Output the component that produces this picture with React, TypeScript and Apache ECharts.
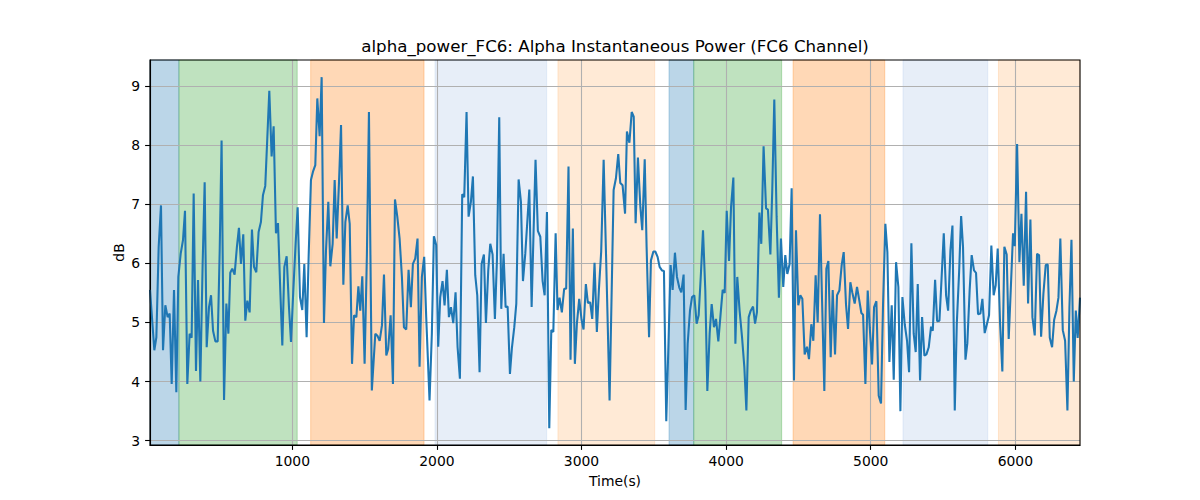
import React, { useEffect, useRef } from "react";
import * as echarts from "echarts";

// Alpha instantaneous power (dB) vs time (s)
const powerA: [number, number][] = [
  [16, 5.55], [46, 4.53], [60, 4.75], [76, 6.28], [92, 6.98], [106, 4.53], [122, 5.29], [138, 5.09], [152, 5.15], [166, 3.96],
  [182, 5.55], [198, 3.82], [212, 5.77], [228, 6.16], [244, 6.39], [258, 6.89], [274, 3.96], [290, 4.81], [304, 4.74], [318, 7.18],
  [334, 4.18], [348, 5.72], [364, 4.0], [380, 5.99], [394, 7.37], [408, 4.58], [424, 5.26], [438, 5.46], [452, 4.86], [468, 4.68],
  [484, 4.68], [498, 6.22], [511, 8.08], [528, 3.69], [544, 5.32], [558, 4.81], [571, 5.84], [585, 5.91], [601, 5.81], [617, 6.28],
  [631, 6.6], [645, 5.99], [661, 6.49], [675, 5.03], [689, 5.37], [705, 5.17], [721, 6.57], [735, 5.94], [751, 5.85], [767, 6.53],
  [783, 6.7], [797, 7.15], [813, 7.31], [827, 8.11], [841, 8.92], [857, 7.81], [871, 8.32], [887, 6.51], [901, 6.68], [917, 5.54],
  [931, 4.61], [945, 5.94], [961, 6.12], [977, 5.26], [991, 4.67], [1007, 5.54], [1023, 6.33], [1037, 6.95], [1053, 5.43], [1069, 5.21],
  [1083, 5.99], [1099, 4.75], [1113, 6.11], [1129, 7.41], [1143, 7.55], [1159, 7.66], [1173, 8.79], [1189, 8.15], [1203, 9.15], [1219, 4.99],
  [1233, 6.22], [1249, 7.04], [1263, 5.95], [1279, 6.33], [1293, 7.41], [1307, 6.42], [1323, 7.38], [1337, 8.34], [1353, 5.64], [1367, 6.7],
  [1383, 6.98], [1397, 6.67], [1413, 4.3], [1427, 5.12], [1443, 5.09], [1457, 5.61], [1470, 5.2], [1484, 5.78], [1500, 4.3], [1516, 6.16],
  [1530, 8.56], [1550, 3.85],
];

const powerB: [number, number][] = [
  [1574, 4.81], [1590, 4.77], [1604, 4.69], [1620, 4.95], [1634, 5.81], [1650, 4.44], [1663, 4.55], [1680, 5.12], [1696, 3.96], [1710, 7.08],
  [1726, 6.79], [1742, 6.42], [1758, 5.77], [1772, 4.92], [1788, 4.88], [1804, 5.89], [1820, 5.26], [1834, 5.99], [1850, 6.08], [1866, 6.42],
  [1880, 4.25], [1896, 5.77], [1912, 6.11], [1926, 5.09], [1949, 3.68], [1965, 4.81], [1979, 6.46], [1995, 6.31], [2009, 4.59], [2023, 5.43],
  [2039, 5.7], [2053, 5.29], [2069, 5.89], [2083, 5.09], [2097, 5.26], [2113, 4.99], [2129, 5.51], [2143, 4.58], [2159, 4.05], [2175, 7.17],
  [2189, 7.12], [2205, 8.56], [2219, 6.79], [2235, 7.04], [2249, 7.47], [2265, 5.8], [2279, 5.46], [2295, 4.16], [2309, 5.99], [2325, 6.15],
  [2339, 4.99], [2355, 5.88], [2369, 6.33], [2385, 6.15], [2401, 5.06], [2415, 6.05], [2431, 8.47], [2445, 5.23], [2461, 6.16], [2475, 5.26],
  [2489, 5.27], [2505, 4.13], [2519, 4.58], [2535, 4.92], [2549, 5.32], [2565, 7.42], [2581, 7.04], [2595, 5.7], [2611, 6.16], [2625, 6.7],
  [2639, 7.25], [2655, 5.26], [2668, 6.5], [2682, 7.75], [2698, 6.55], [2715, 6.45], [2731, 5.7], [2745, 5.46], [2761, 6.87], [2777, 3.21],
  [2791, 4.87], [2805, 4.84], [2821, 6.51], [2834, 5.21], [2848, 5.42], [2864, 5.17], [2880, 5.57], [2894, 5.57], [2910, 7.64], [2924, 4.37],
  [2940, 6.59], [2954, 4.3], [2968, 4.98], [2984, 5.4], [3000, 5.05], [3014, 4.88], [3030, 5.65], [3044, 5.33], [3060, 5.34], [3074, 5.06],
  [3090, 6.01], [3106, 4.84], [3120, 5.55], [3136, 6.2], [3153, 7.75], [3171, 6.0], [3194, 3.68],
];

const powerC: [number, number][] = [
  [3222, 7.24], [3238, 7.44], [3254, 7.85], [3268, 7.36], [3284, 7.32], [3301, 6.84], [3314, 8.23], [3331, 8.04], [3347, 8.56], [3361, 8.48],
  [3374, 6.68], [3390, 7.79], [3407, 6.95], [3420, 6.56], [3437, 7.76], [3450, 6.28], [3467, 4.75], [3480, 6.05], [3497, 6.2], [3510, 6.2],
  [3526, 6.11], [3540, 5.94], [3556, 5.88], [3570, 5.87], [3586, 3.33], [3600, 4.53], [3616, 5.97], [3630, 5.55], [3646, 6.18], [3660, 5.77],
  [3676, 5.59], [3690, 5.51], [3706, 5.81], [3720, 3.52], [3734, 4.64], [3750, 5.2], [3764, 5.43], [3780, 5.46], [3796, 4.98], [3810, 5.12],
  [3826, 5.84], [3840, 6.56], [3856, 5.54], [3870, 3.84], [3886, 4.81], [3900, 5.31], [3916, 4.92], [3930, 5.06], [3946, 4.68], [3962, 5.15],
  [3976, 5.55], [3990, 5.5], [4004, 6.89], [4020, 6.04], [4034, 6.95], [4050, 7.45], [4064, 4.64], [4077, 5.77], [4093, 5.2], [4110, 4.75],
  [4126, 4.24], [4140, 3.51], [4156, 5.09], [4170, 5.2], [4186, 5.27], [4200, 4.98], [4213, 5.17], [4230, 6.86], [4243, 6.33], [4259, 7.98],
  [4276, 6.93], [4289, 6.91], [4306, 6.15], [4319, 7.24], [4333, 8.77], [4349, 6.79], [4365, 5.42], [4379, 6.42], [4395, 5.6], [4409, 6.14],
  [4423, 5.82], [4439, 5.99], [4453, 7.27], [4469, 4.02], [4483, 6.56], [4499, 5.29], [4513, 5.46], [4527, 5.4], [4543, 4.46], [4559, 4.59],
  [4573, 4.38], [4589, 4.97], [4603, 4.69], [4619, 5.8], [4633, 5.0], [4649, 6.83], [4663, 5.4], [4679, 3.84], [4693, 5.91], [4707, 6.04],
  [4723, 4.41], [4737, 5.55], [4753, 4.46], [4767, 5.46], [4783, 5.54],
];

const powerD: [number, number][] = [
  [4799, 5.97], [4813, 6.19], [4829, 5.3], [4843, 4.89], [4859, 5.68], [4873, 5.5], [4889, 5.32], [4905, 5.6], [4919, 5.4], [4935, 5.16],
  [4947, 5.13], [4963, 3.96], [4979, 5.54], [4993, 4.92], [5009, 4.29], [5023, 5.26], [5039, 5.36], [5055, 3.76], [5071, 3.63], [5085, 5.3],
  [5101, 6.67], [5115, 6.19], [5129, 4.33], [5145, 5.29], [5159, 4.03], [5175, 6.02], [5191, 5.6], [5205, 3.5], [5219, 5.43], [5235, 4.97],
  [5251, 4.69], [5265, 4.16], [5281, 6.34], [5297, 4.81], [5311, 4.5], [5325, 5.65], [5341, 4.02], [5355, 5.09], [5371, 4.44], [5385, 4.46],
  [5401, 4.58], [5417, 4.93], [5429, 4.86], [5445, 5.72], [5459, 5.02], [5475, 5.03], [5489, 5.71], [5505, 6.51], [5521, 5.46], [5535, 5.2],
  [5551, 6.22], [5565, 6.64], [5581, 3.51], [5595, 4.98], [5611, 5.85], [5625, 6.8], [5638, 6.28], [5655, 4.37], [5668, 4.65], [5684, 5.55],
  [5698, 6.14], [5714, 5.88], [5728, 5.84], [5742, 5.14], [5758, 5.15], [5772, 5.4], [5788, 4.82], [5804, 4.98], [5818, 5.12], [5834, 6.3],
  [5850, 5.46], [5864, 5.63], [5878, 6.25], [5894, 5.0], [5910, 4.17], [5924, 6.28], [5940, 6.15], [5954, 4.72], [5968, 5.54], [5984, 6.51],
  [5996, 6.29], [6012, 8.02], [6028, 6.02], [6042, 6.84], [6058, 5.62], [6074, 7.21], [6088, 5.32], [6104, 6.74], [6118, 5.09], [6134, 4.78],
  [6150, 6.16], [6164, 6.14], [6178, 4.76], [6194, 5.49], [6210, 5.97], [6224, 5.98], [6238, 4.74], [6254, 4.58], [6268, 5.04], [6284, 5.2],
  [6298, 5.42], [6311, 6.42], [6328, 4.87], [6344, 4.69], [6360, 3.51], [6374, 5.26], [6388, 6.4], [6404, 4.0], [6418, 5.2], [6431, 4.74],
  [6447, 5.42],
];

// Shaded segments (axvspan)
const spanStarts = [16, 216, 1127, 1987, 2837, 3605, 3776, 4463, 5223, 5883];
const spanEnds = [216, 1034, 1911, 2759, 3506, 3776, 4384, 5097, 5809, 6447];
const spanColors = ["#1f77b4", "#2ca02c", "#ff7f0e", "#aec7e8", "#ffbb78", "#1f77b4", "#2ca02c", "#ff7f0e", "#aec7e8", "#ffbb78"];

const xTicks = [1000, 2000, 3000, 4000, 5000, 6000];
const yTicks = [3, 4, 5, 6, 7, 8, 9];

const X_MIN = 16;
const X_MAX = 6447;
const Y_MIN = 2.927;
const Y_MAX = 9.44;

const TITLE = "alpha_power_FC6: Alpha Instantaneous Power (FC6 Channel)";
const X_NAME = "Time(s)";
const Y_NAME = "dB";

function rgba(hex: string, a: number): string {
  const r = parseInt(hex.slice(1, 3), 16);
  const g = parseInt(hex.slice(3, 5), 16);
  const b = parseInt(hex.slice(5, 7), 16);
  return `rgba(${r},${g},${b},${a})`;
}

export default function App() {
  const ref = useRef<HTMLDivElement>(null);

  useEffect(() => {
    if (!ref.current) return;
    const chart = echarts.init(ref.current, null, { renderer: "svg" });
    const data = [...powerA, ...powerB, ...powerC, ...powerD];
    const font = "DejaVu Sans";

    const areas = spanStarts.map((s, i) => [
      {
        xAxis: s,
        itemStyle: {
          color: rgba(spanColors[i], 0.3),
          borderColor: rgba(spanColors[i], 0.3),
          borderWidth: 1,
        },
      },
      { xAxis: spanEnds[i] },
    ]);

    chart.setOption({
      animation: false,
      backgroundColor: "#ffffff",
      grid: {
        left: 150,
        right: 120,
        top: 60,
        bottom: 55,
        containLabel: false,
        outerBoundsMode: "none",
        show: true,
        borderColor: "#000000",
        borderWidth: 1.1,
        backgroundColor: "transparent",
        z: 10,
      },
      xAxis: {
        type: "value",
        min: X_MIN,
        max: X_MAX,
        z: 2,
        axisLine: { show: true, onZero: false, lineStyle: { color: "#000", width: 1.1 } },
        axisTick: { show: true, length: 4.9, lineStyle: { color: "#000", width: 1.1 }, customValues: xTicks },
        axisLabel: {
          customValues: xTicks,
          margin: 9,
          color: "#000",
          fontFamily: font,
          fontSize: 13.9,
          formatter: (v: number) => String(v),
        },
        splitLine: { show: true, lineStyle: { color: "#b0b0b0", width: 1.1 } },
      },
      yAxis: {
        type: "value",
        min: Y_MIN,
        max: Y_MAX,
        z: 2,
        axisLine: { show: true, onZero: false, lineStyle: { color: "#000", width: 1.1 } },
        axisTick: { show: true, length: 4.9, lineStyle: { color: "#000", width: 1.1 }, customValues: yTicks },
        axisLabel: {
          customValues: yTicks,
          margin: 10,
          color: "#000",
          fontFamily: font,
          fontSize: 13.9,
          formatter: (v: number) => String(v),
        },
        splitLine: { show: true, lineStyle: { color: "#b0b0b0", width: 1.1 } },
      },
      series: [
        {
          type: "line",
          data,
          z: 1,
          silent: true,
          symbol: "none",
          lineStyle: { opacity: 0, width: 0 },
          markArea: { silent: true, data: areas },
        },
        {
          type: "line",
          data,
          z: 3,
          silent: true,
          symbol: "none",
          showSymbol: false,
          clip: true,
          lineStyle: { color: "#1f77b4", width: 2.08 },
        },
      ],
      graphic: [
        {
          type: "text",
          x: 615,
          y: 46,
          silent: true,
          style: {
            text: TITLE,
            font: `16.67px "${font}"`,
            fill: "#000",
            align: "center",
            verticalAlign: "middle",
            textAlign: "center",
            textVerticalAlign: "middle",
          },
        },
        {
          type: "text",
          x: 615,
          y: 481,
          silent: true,
          style: {
            text: X_NAME,
            font: `13.9px "${font}"`,
            fill: "#000",
            align: "center",
            verticalAlign: "middle",
            textAlign: "center",
            textVerticalAlign: "middle",
          },
        },
        {
          type: "text",
          x: 119,
          y: 252.5,
          rotation: Math.PI / 2,
          silent: true,
          style: {
            text: Y_NAME,
            font: `13.9px "${font}"`,
            fill: "#000",
            align: "center",
            verticalAlign: "middle",
            textAlign: "center",
            textVerticalAlign: "middle",
          },
        },
      ],
    });

    return () => chart.dispose();
  }, []);

  return (
    <div
      ref={ref}
      style={{ position: "fixed", left: 0, top: 0, width: 1200, height: 500, background: "#fff" }}
    />
  );
}
